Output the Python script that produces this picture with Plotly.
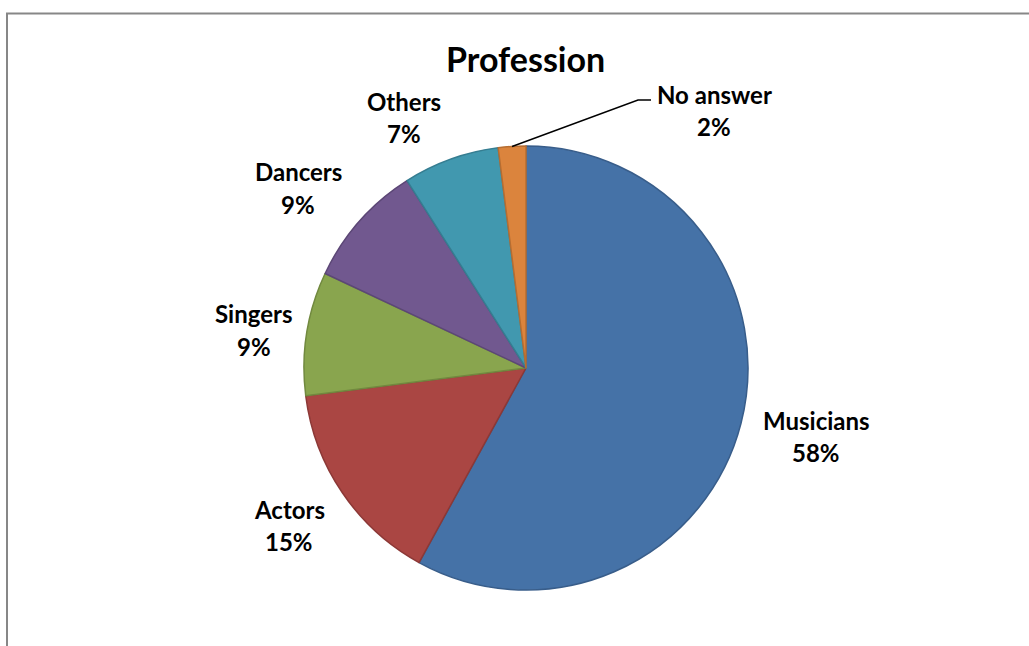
import plotly.graph_objects as go
import math

# Survey answers: profession of respondents (percent)
professions = ["Musicians", "Actors", "Singers", "Dancers", "Others", "No answer"]
shares = [58, 15, 9, 9, 7, 2]

fill_colors = ["#4572A7", "#AA4643", "#89A54E", "#71588F", "#4198AF", "#DB843D"]
edge_colors = ["#385D8A", "#8C3836", "#71893F", "#5C4776", "#357D91", "#B66D31"]

W, H = 1029, 646
# pie placement in pixels (centre and radius)
CX, CY, R = 526, 368, 222

# label centres in pixels: (name line, value line)
label_pos = {
    "Musicians": ((816, 420), (816, 452)),
    "Actors": ((289, 509), (289, 541)),
    "Singers": ((254, 313), (254, 346)),
    "Dancers": ((298, 172), (298, 204)),
    "Others": ((404, 101), (404, 134)),
    "No answer": ((714, 94), (714, 126)),
}


def px(x):
    return x / W


def py(y):
    return 1 - y / H


fig = go.Figure(
    go.Pie(
        labels=professions,
        values=shares,
        sort=False,
        direction="clockwise",
        rotation=0,
        marker=dict(colors=fill_colors, line=dict(color=edge_colors, width=1.5)),
        textinfo="none",
        hoverinfo="label+percent",
        showlegend=False,
        domain=dict(x=[px(CX - R), px(CX + R)], y=[py(CY + R), py(CY - R)]),
    )
)

font = dict(family="Lato, 'Open Sans', sans-serif", size=24, color="#000000", weight="bold")
annotations = []
for name, val in zip(professions, shares):
    (nx, ny), (vx, vy) = label_pos[name]
    annotations.append(dict(x=px(nx), y=py(ny), xref="paper", yref="paper", text=name,
                            showarrow=False, xanchor="center", yanchor="middle", font=font))
    annotations.append(dict(x=px(vx), y=py(vy), xref="paper", yref="paper", text=f"{val}%",
                            showarrow=False, xanchor="center", yanchor="middle", font=font))

annotations.append(dict(x=px(525), y=py(58), xref="paper", yref="paper", text="Profession",
                        showarrow=False, xanchor="center", yanchor="middle",
                        font=dict(family="Lato, 'Open Sans', sans-serif", size=34,
                                  color="#000000", weight="bold")))

# leader line for the small "No answer" slice, starting at the slice's mid-angle on the rim
total = sum(shares)
start = sum(shares[:-1]) / total
mid = (start + shares[-1] / total / 2) * 2 * math.pi
sx, sy = CX + R * math.sin(mid), CY - R * math.cos(mid)
shapes = [
    dict(type="path", xref="paper", yref="paper",
         path=f"M {px(sx)} {py(sy)} L {px(638)} {py(100)} L {px(651)} {py(100)}",
         line=dict(color="#000000", width=1.5)),
    # chart area frame
    dict(type="line", xref="paper", yref="paper", x0=px(7), x1=px(7), y0=py(13), y1=0,
         line=dict(color="#878787", width=2)),
    dict(type="line", xref="paper", yref="paper", x0=px(6), x1=1, y0=py(13.5), y1=py(13.5),
         line=dict(color="#878787", width=2)),
]

fig.update_layout(
    width=W,
    height=H,
    margin=dict(l=0, r=0, t=0, b=0),
    paper_bgcolor="#FFFFFF",
    plot_bgcolor="#FFFFFF",
    annotations=annotations,
    shapes=shapes,
)

fig.write_html("out.html")
